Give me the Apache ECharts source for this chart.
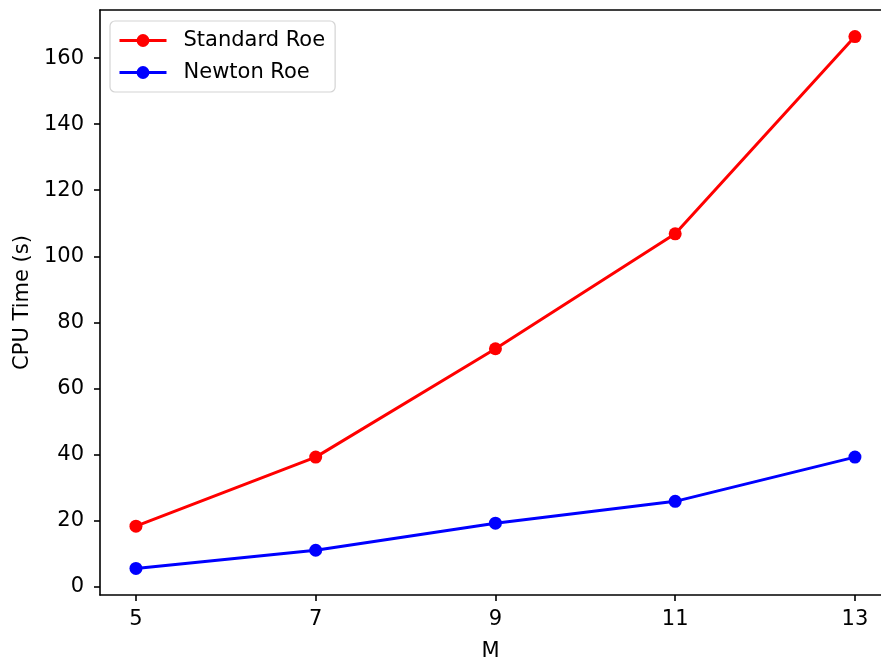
<!DOCTYPE html>
<html>
<head>
<meta charset="utf-8">
<script src="https://cdn.jsdelivr.net/npm/echarts@6/dist/echarts.min.js"></script>
<style>
  html, body { margin: 0; padding: 0; background: #fff; }
  #main { width: 881px; height: 659px; }
</style>
</head>
<body>
<div id="main"></div>
<script>
const mValues = [5, 7, 9, 11, 13];
const standardRoe = [18.3, 39.2, 72.0, 106.8, 166.5];
const newtonRoe = [5.5, 11.0, 19.2, 25.8, 39.2];
const xTicks = [5, 7, 9, 11, 13];
const yTicks = [0, 20, 40, 60, 80, 100, 120, 140, 160];

const chart = echarts.init(document.getElementById("main"));
const font = "DejaVu Sans";

const axisLine = { show: true, onZero: false, lineStyle: { color: "#000", width: 1.6 } };
const tickStyle = { color: "#000", width: 1.6 };
const labelStyle = { fontFamily: font, fontSize: 21, color: "#000" };

const option = {
  animation: false,
  backgroundColor: "#fff",
  // 右边框画在画布外面，和原图一样被裁掉
  grid: {
    left: 100,
    right: 0,
    top: 10,
    bottom: 64,
    containLabel: false,
    outerBoundsMode: "none",
  },
  legend: {
    orient: "vertical",
    left: 110,
    top: 21,
    padding: [9, 10, 9, 8],
    itemGap: 11,
    itemWidth: 47,
    itemHeight: 16,
    backgroundColor: "#fff",
    borderColor: "#d4d4d4",
    borderWidth: 1.2,
    borderRadius: 5,
    lineStyle: { width: 3 },
    textStyle: Object.assign({}, labelStyle, { padding: [0, 0, 0, 12] }),
  },
  xAxis: [
    {
      type: "value",
      min: 4.6,
      max: 13.29,
      name: "M",
      nameLocation: "middle",
      nameGap: 46,
      nameTextStyle: labelStyle,
      axisLine: axisLine,
      axisTick: { show: true, length: 6, customValues: xTicks, lineStyle: tickStyle },
      axisLabel: Object.assign({ customValues: xTicks, margin: 14 }, labelStyle),
      splitLine: { show: false },
    },
    {
      // 上边框
      type: "value",
      position: "top",
      min: 4.6,
      max: 13.29,
      axisLine: axisLine,
      axisTick: { show: false },
      axisLabel: { show: false },
      splitLine: { show: false },
    },
  ],
  yAxis: {
    type: "value",
    min: -2.55,
    max: 174.55,
    name: "CPU Time (s)",
    nameLocation: "middle",
    nameGap: 67,
    nameTextStyle: labelStyle,
    axisLine: axisLine,
    axisTick: { show: true, length: 6, customValues: yTicks, lineStyle: tickStyle },
    axisLabel: Object.assign({ customValues: yTicks, margin: 16 }, labelStyle),
    splitLine: { show: false },
  },
  series: [
    {
      name: "Standard Roe",
      type: "line",
      data: mValues.map((m, i) => [m, standardRoe[i]]),
      color: "#ff0000",
      lineStyle: { width: 3 },
      symbol: "circle",
      symbolSize: 13,
      itemStyle: { color: "#ff0000" },
    },
    {
      name: "Newton Roe",
      type: "line",
      data: mValues.map((m, i) => [m, newtonRoe[i]]),
      color: "#0000ff",
      lineStyle: { width: 3 },
      symbol: "circle",
      symbolSize: 13,
      itemStyle: { color: "#0000ff" },
    },
  ],
};

chart.setOption(option);
window.addEventListener("resize", function () {
  chart.resize();
});
</script>
</body>
</html>
